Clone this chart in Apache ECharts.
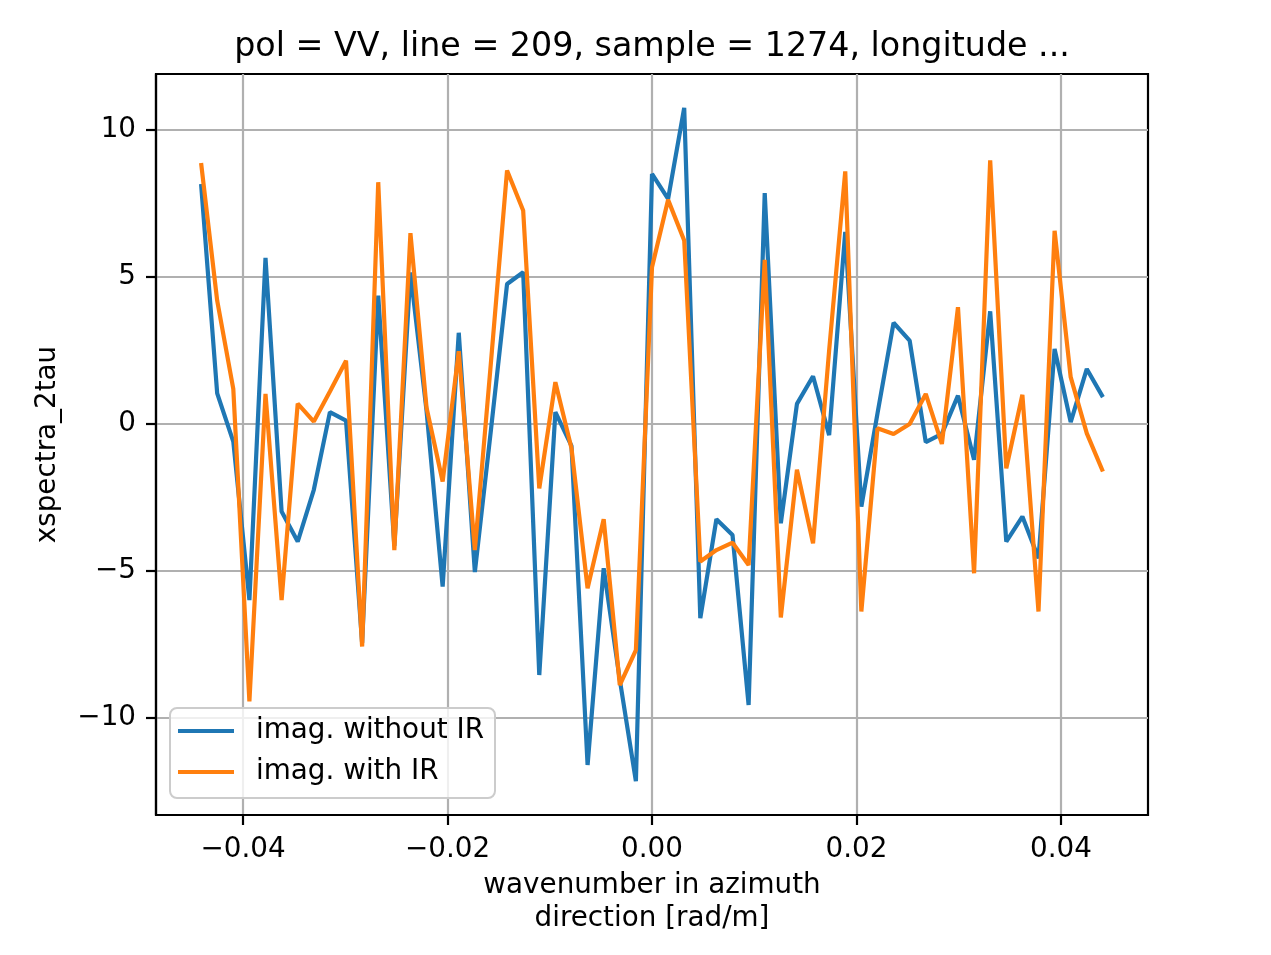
<!DOCTYPE html>
<html><head><meta charset="utf-8">
<script src="https://cdn.jsdelivr.net/npm/echarts@6/dist/echarts.min.js"></script>
<style>html,body{margin:0;padding:0;background:#fff}#c{width:1271px;height:955px}</style>
</head><body><div id="c"></div>
<script>
const wavenumber = [
  -0.0441, -0.042525, -0.04095, -0.039375, -0.0378, -0.036225, -0.03465, -0.033075,
  -0.0315, -0.029925, -0.02835, -0.026775, -0.0252, -0.023625, -0.02205, -0.020475,
  -0.0189, -0.017325, -0.01575, -0.014175, -0.0126, -0.011025, -0.00945, -0.007875,
  -0.0063, -0.004725, -0.00315, -0.001575, 0,
  0.001575, 0.00315, 0.004725, 0.0063, 0.007875, 0.00945, 0.011025, 0.0126,
  0.014175, 0.01575, 0.017325, 0.0189, 0.020475, 0.02205, 0.023625, 0.0252,
  0.026775, 0.02835, 0.029925, 0.0315, 0.033075, 0.03465, 0.036225, 0.0378,
  0.039375, 0.04095, 0.042525, 0.0441
];
const imagWithoutIR = [
  8.16, 1.04, -0.6, -5.99, 5.65, -2.98, -4.0, -2.24, 0.40, 0.11,
  -7.45, 4.36, -4.15, 5.15, 0.45, -5.53, 3.1, -5.04, -0.2, 4.76,
  5.16, -8.54, 0.40, -0.75, -11.6, -4.91, -8.7, -12.15, 8.5, 7.65,
  10.75, -6.61, -3.24, -3.78, -9.56, 7.85, -3.38, 0.68, 1.62, -0.38,
  6.53, -2.81, 0.35, 3.44, 2.83, -0.62, -0.34, 0.96, -1.22, 3.83,
  -4.0, -3.15, -4.57, 2.55, 0.06, 1.87, 0.91
];
const imagWithIR = [
  8.87, 4.19, 1.19, -9.44, 1.02, -5.99, 0.69, 0.08, 1.1, 2.15,
  -7.57, 8.22, -4.29, 6.49, 0.55, -1.96, 2.47, -4.29, 2.1, 8.62,
  7.26, -2.19, 1.42, -0.83, -5.59, -3.24, -8.88, -7.69, 5.33, 7.62,
  6.24, -4.68, -4.29, -4.04, -4.80, 5.58, -6.58, -1.56, -4.06, 2.5,
  8.59, -6.38, -0.15, -0.34, 0.0, 1.02, -0.68, 3.97, -5.08, 8.96,
  -1.51, 0.99, -6.38, 6.57, 1.59, -0.32, -1.62
];
const xTicks = [-0.04, -0.02, 0, 0.02, 0.04];
const yTicks = [-10, -5, 0, 5, 10];
const seriesNames = ['imag. without IR', 'imag. with IR'];
const titleText = 'pol = VV, line = 209, sample = 1274, longitude ...';
const xLabel = 'wavenumber in azimuth\ndirection [rad/m]';
const yLabel = 'xspectra_2tau';

const FONT = 'DejaVu Sans';
const FS = 27.8;
const minus = v => (v < 0 ? '\u2212' : '');

const chart = echarts.init(document.getElementById('c'), null, {renderer: 'canvas'});
const axisCommon = {
  axisLine: {show: true, onZero: false, lineStyle: {color: '#000', width: 2.2}},
  splitLine: {show: true, lineStyle: {color: '#b0b0b0', width: 2.2}},
  nameTextStyle: {fontFamily: FONT, fontSize: FS, color: '#000'}
};
chart.setOption({
  animation: false,
  backgroundColor: '#fff',
  graphic: [{
    type: 'text', x: 652, y: 47,
    style: {text: titleText, fontFamily: FONT, fontSize: 33.3, fill: '#000', textAlign: 'center', textVerticalAlign: 'middle'}
  }],
  grid: {left: 156, top: 74, width: 992, height: 741, show: true, borderColor: '#000', borderWidth: 2.2, backgroundColor: 'transparent'},
  legend: {
    show: true, orient: 'vertical', left: 170, top: 708,
    data: seriesNames,
    icon: 'path://M0,0H56V4H0Z',
    itemWidth: 56, itemHeight: 4, itemGap: 13,
    padding: [9, 11, 12, 8],
    backgroundColor: 'rgba(255,255,255,0.8)', borderColor: '#cccccc', borderWidth: 2, borderRadius: 7,
    textStyle: {fontFamily: FONT, fontSize: FS, color: '#000', padding: [0, 0, 0, 17]}
  },
  xAxis: Object.assign({}, axisCommon, {
    type: 'value', min: -0.04851, max: 0.04851,
    name: xLabel, nameLocation: 'middle', nameGap: 54,
    nameTextStyle: {fontFamily: FONT, fontSize: FS, color: '#000', lineHeight: 33, align: 'center'},
    axisTick: {show: true, inside: false, length: 10, lineStyle: {color: '#000', width: 2.2}, customValues: xTicks},
    axisLabel: {show: true, margin: 21, customValues: xTicks, fontFamily: FONT, fontSize: FS, color: '#000',
      formatter: v => minus(v) + Math.abs(v).toFixed(2)}
  }),
  yAxis: Object.assign({}, axisCommon, {
    type: 'value', min: -13.3, max: 11.9,
    name: yLabel, nameLocation: 'middle', nameGap: 94, nameRotate: 90,
    axisTick: {show: true, inside: false, length: 10, lineStyle: {color: '#000', width: 2.2}, customValues: yTicks},
    axisLabel: {show: true, margin: 20, customValues: yTicks, fontFamily: FONT, fontSize: FS, color: '#000',
      formatter: v => minus(v) + Math.abs(v)}
  }),
  series: [
    {name: seriesNames[0], type: 'line', symbol: 'none', showSymbol: false,
     data: wavenumber.map((x, i) => [x, imagWithoutIR[i]]),
     lineStyle: {color: '#1f77b4', width: 4.2}, itemStyle: {color: '#1f77b4'}, z: 3},
    {name: seriesNames[1], type: 'line', symbol: 'none', showSymbol: false,
     data: wavenumber.map((x, i) => [x, imagWithIR[i]]),
     lineStyle: {color: '#ff7f0e', width: 4.2}, itemStyle: {color: '#ff7f0e'}, z: 4}
  ]
});
</script>
</body></html>
